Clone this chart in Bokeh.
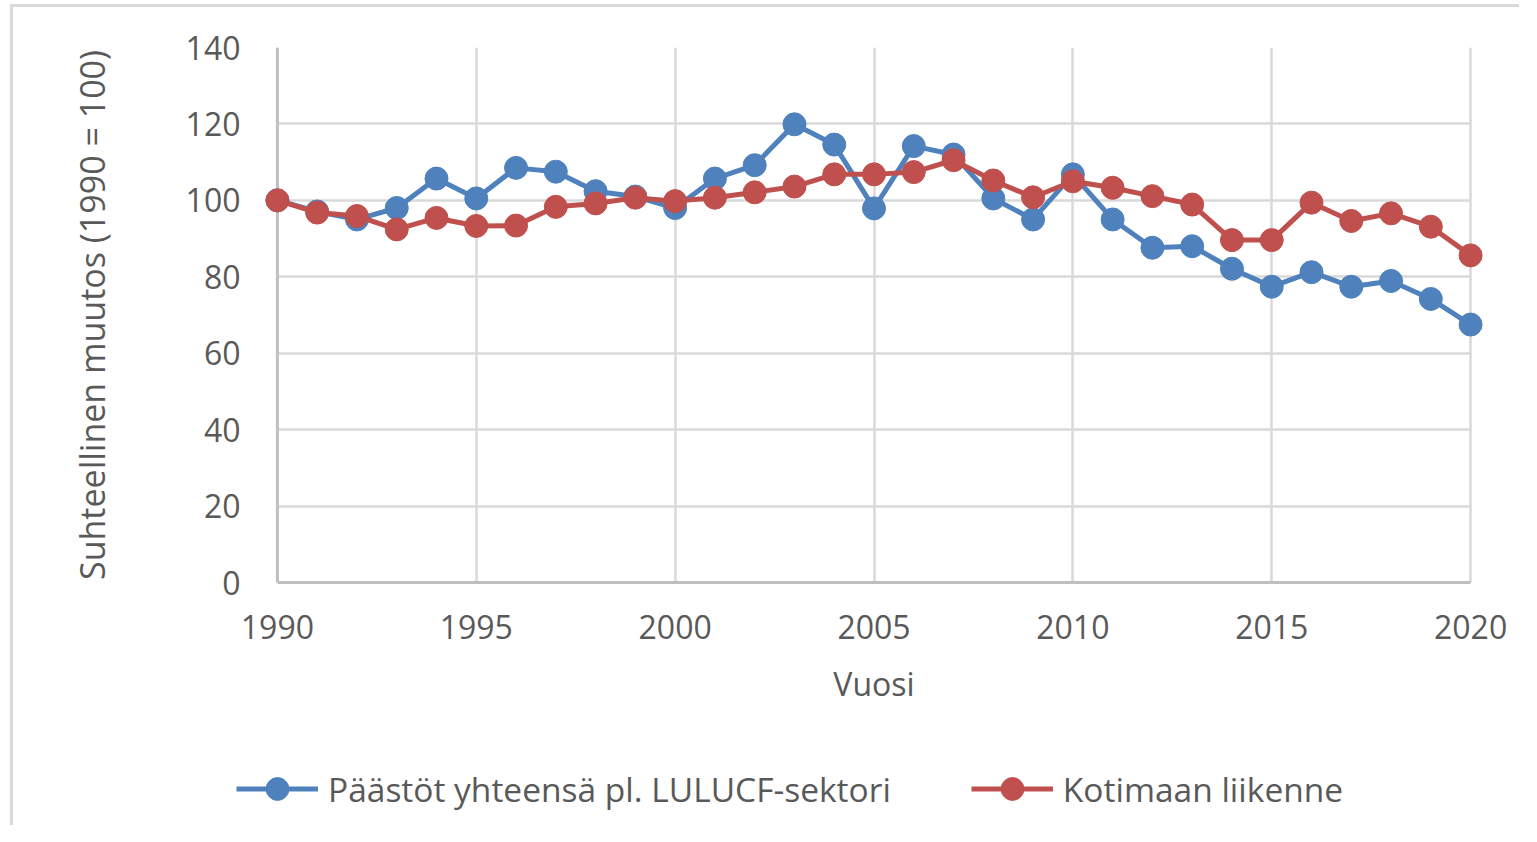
from bokeh.plotting import figure
from bokeh.layouts import column
from bokeh.models import Range1d, Legend, LegendItem, Span, FixedTicker
from bokeh.embed import file_html
from bokeh.resources import INLINE

years = [1990, 1991, 1992, 1993, 1994, 1995, 1996, 1997, 1998, 1999,
         2000, 2001, 2002, 2003, 2004, 2005, 2006, 2007, 2008, 2009,
         2010, 2011, 2012, 2013, 2014, 2015, 2016, 2017, 2018, 2019, 2020]
total_excl_lulucf = [100, 97.1, 95.0, 98.0, 105.7, 100.5, 108.5, 107.5, 102.4, 101.0,
                     98.0, 105.7, 109.2, 119.9, 114.6, 97.9, 114.2, 112.0, 100.5, 95.0,
                     106.8, 95.0, 87.6, 88.0, 82.1, 77.4, 81.2, 77.4, 78.9, 74.2, 67.5]
domestic_transport = [100, 96.8, 95.9, 92.4, 95.4, 93.3, 93.4, 98.3, 99.2, 100.7,
                      99.8, 100.7, 102.1, 103.6, 106.8, 106.8, 107.4, 110.5, 105.2, 100.8,
                      105.0, 103.3, 101.1, 98.9, 89.6, 89.6, 99.4, 94.6, 96.6, 93.1, 85.6]
series_names = ["Päästöt yhteensä pl. LULUCF-sektori", "Kotimaan liikenne"]
x_ticks = [1990, 1995, 2000, 2005, 2010, 2015, 2020]
y_ticks = [0, 20, 40, 60, 80, 100, 120, 140]
x_label = "Vuosi"
y_label = "Suhteellinen muutos (1990 = 100)"

FONT = "Open Sans"
TXT = "#595959"
BLUE = "#4f81bd"
RED = "#c0504d"
GRID = "#d9d9d9"
AXIS = "#bfbfbf"

W = 1506
H1 = 700
H2 = 118

p = figure(width=W, height=H1, output_backend="svg", toolbar_location=None,
           x_range=Range1d(1989.6, 2020.4), y_range=Range1d(0, 140),
           min_border_left=248, min_border_right=33, min_border_top=40,
           min_border_bottom=H1 - 575)
p.frame_align = False
p.outline_line_color = None
p.background_fill_color = "white"
p.border_fill_color = "white"

# grids
p.xgrid.ticker = FixedTicker(ticks=x_ticks)
p.ygrid.ticker = FixedTicker(ticks=y_ticks)
for g in (p.xgrid, p.ygrid):
    g.grid_line_color = GRID
    g.grid_line_width = 2.5
try:
    p.ygrid.cross_bounds = (1990, 2020)
except Exception:
    pass

# axes
p.xaxis.ticker = FixedTicker(ticks=x_ticks)
p.yaxis.ticker = FixedTicker(ticks=y_ticks)
p.xaxis.bounds = (1990, 2020)
p.xaxis.axis_line_color = AXIS
p.xaxis.axis_line_width = 3
p.yaxis.axis_line_color = None
for ax in (p.xaxis, p.yaxis):
    ax.major_tick_line_color = None
    ax.minor_tick_line_color = None
    ax.major_label_text_font = FONT
    ax.major_label_text_font_size = "32px"
    ax.major_label_text_color = TXT
    ax.axis_label_text_font = FONT
    ax.axis_label_text_font_size = "32px"
    ax.axis_label_text_color = TXT
    ax.axis_label_text_font_style = "normal"
p.yaxis.axis_label_text_font_size = "34px"
p.xaxis.major_label_standoff = 26
p.yaxis.major_label_standoff = 15
p.xaxis.axis_label = x_label
p.yaxis.axis_label = y_label
p.xaxis.axis_label_standoff = 20
p.yaxis.axis_label_standoff = 68

left_axis = Span(location=1990, dimension="height", line_color=AXIS, line_width=3,
                 level="underlay")
p.add_layout(left_axis)

p.line(years, total_excl_lulucf, line_color=BLUE, line_width=5)
p.scatter(years, total_excl_lulucf, size=23, fill_color=BLUE, line_color=BLUE)
p.line(years, domestic_transport, line_color=RED, line_width=5)
p.scatter(years, domestic_transport, size=23, fill_color=RED, line_color=RED)

# legend strip (same series; plotted outside its own view so only the legend shows)
q = figure(width=W, height=H2, output_backend="svg", toolbar_location=None,
           x_range=Range1d(0, 1), y_range=Range1d(0, 1),
           x_axis_location=None, y_axis_location=None,
           min_border=0, min_border_left=0, min_border_right=0,
           min_border_top=0, min_border_bottom=0)
q.frame_align = False
q.grid.visible = False
q.outline_line_color = None
q.background_fill_color = "white"
q.border_fill_color = "white"
ql1 = q.line(years, total_excl_lulucf, line_color=BLUE, line_width=5)
qs1 = q.scatter(years, total_excl_lulucf, size=23, fill_color=BLUE, line_color=BLUE)
ql2 = q.line(years, domestic_transport, line_color=RED, line_width=5)
qs2 = q.scatter(years, domestic_transport, size=23, fill_color=RED, line_color=RED)

legend = Legend(items=[LegendItem(label=series_names[0], renderers=[ql1, qs1]),
                       LegendItem(label=series_names[1], renderers=[ql2, qs2])],
                orientation="horizontal", location=(223, 8))
legend.glyph_width = 82
legend.glyph_height = 57
legend.label_standoff = 10
legend.spacing = 80
legend.padding = 0
legend.margin = 0
legend.border_line_color = None
legend.background_fill_color = None
legend.background_fill_alpha = 0
legend.label_text_font = FONT
legend.label_text_font_size = "33.5px"
legend.label_text_color = TXT
q.add_layout(legend)

layout = column(p, q, spacing=0)
layout.styles = {"border-top": "3px solid #d9d9d9", "border-left": "3px solid #d9d9d9",
                 "margin-left": "10px", "margin-top": "4px"}

open("out.html", "w").write(file_html(layout, INLINE))
